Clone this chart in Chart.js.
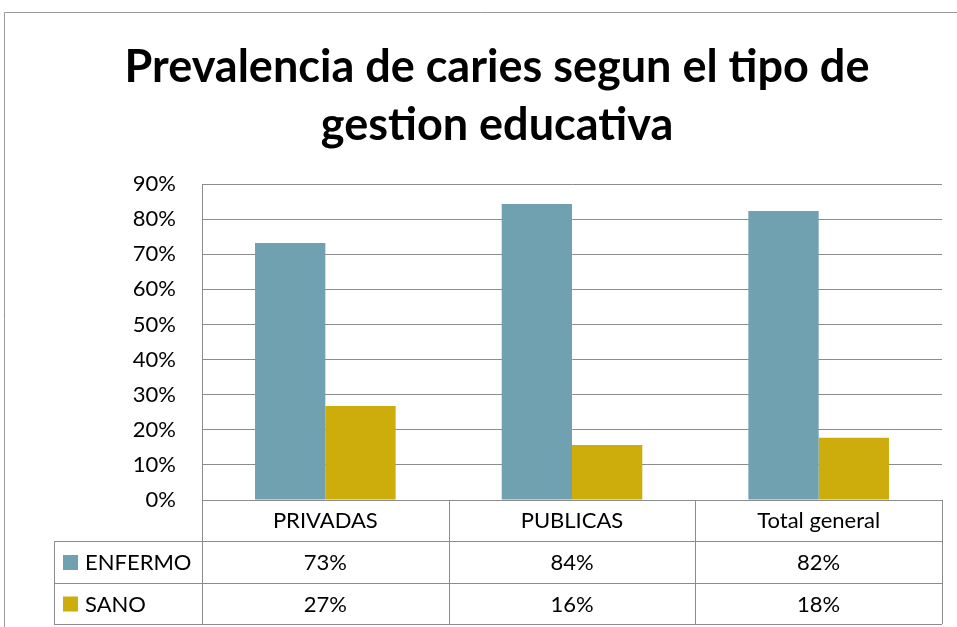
<!DOCTYPE html>
<html>
<head>
<meta charset="utf-8">
<script src="https://cdn.jsdelivr.net/npm/chart.js@4.4.0/dist/chart.umd.min.js"></script>
<style>
  html, body { margin: 0; padding: 0; background: #fff; }
  canvas { display: block; }
</style>
</head>
<body>
<canvas id="myChart" width="957" height="627"></canvas>
<script>
const categories = ["PRIVADAS", "PUBLICAS", "Total general"];
const enfermo = [73.2, 84.3, 82.3];
const sano = [26.8, 15.7, 17.7];
const seriesNames = ["ENFERMO", "SANO"];
const yTicks = [0, 10, 20, 30, 40, 50, 60, 70, 80, 90];

const colors = ["#6fa1b1", "#cdad0b"];
const lineColor = "#8c8c8c";
const font = "Lato";

// draws the frame and the data table under the plot
const tablePlugin = {
  id: "dataTable",
  afterDraw(chart) {
    const ctx = chart.ctx;
    const area = chart.chartArea;
    const x = chart.scales.x;
    const rows = [area.bottom, 541, 583, 624];
    const leftEdge = 54;

    ctx.save();
    // outer frame
    ctx.strokeStyle = "#999";
    ctx.lineWidth = 1;
    ctx.beginPath();
    ctx.moveTo(4.5, chart.height);
    ctx.lineTo(4.5, 12.5);
    ctx.lineTo(chart.width, 12.5);
    ctx.stroke();

    ctx.strokeStyle = lineColor;
    ctx.beginPath();
    // horizontal table lines
    ctx.moveTo(area.left, rows[0] + 0.5);
    ctx.lineTo(area.right, rows[0] + 0.5);
    for (let i = 1; i < rows.length; i++) {
      ctx.moveTo(leftEdge, rows[i] + 0.5);
      ctx.lineTo(area.right, rows[i] + 0.5);
    }
    // vertical table lines
    ctx.moveTo(leftEdge + 0.5, rows[1]);
    ctx.lineTo(leftEdge + 0.5, rows[3]);
    const step = (area.right - area.left) / categories.length;
    for (let i = 0; i <= categories.length; i++) {
      const xx = Math.round(area.left + step * i) + 0.5;
      ctx.moveTo(xx, rows[0]);
      ctx.lineTo(xx, rows[3]);
    }
    ctx.stroke();

    ctx.fillStyle = "#000";
    ctx.font = "22px " + font;
    ctx.textAlign = "center";
    ctx.textBaseline = "middle";
    const series = [enfermo, sano];
    categories.forEach((c, i) => {
      const cx = x.getPixelForValue(i);
      ctx.fillText(c, cx, (rows[0] + rows[1]) / 2);
      series.forEach((s, j) => {
        ctx.fillText(Math.round(s[i]) + "%", cx, (rows[j + 1] + rows[j + 2]) / 2 + 1);
      });
    });

    // legend keys in the table
    ctx.textAlign = "left";
    seriesNames.forEach((name, j) => {
      const cy = (rows[j + 1] + rows[j + 2]) / 2;
      ctx.fillStyle = colors[j];
      ctx.fillRect(63, cy - 7, 15, 15);
      ctx.fillStyle = "#000";
      ctx.fillText(name, 85, cy + 1);
    });
    ctx.restore();
  }
};

const ctx = document.getElementById("myChart").getContext("2d");
const myChart = new Chart(ctx, {
  type: "bar",
  data: {
    labels: categories,
    datasets: [
      { label: seriesNames[0], data: enfermo, backgroundColor: colors[0] },
      { label: seriesNames[1], data: sano, backgroundColor: colors[1] }
    ]
  },
  options: {
    responsive: false,
    animation: false,
    layout: { padding: { left: 52, right: 15, top: 0, bottom: 127 } },
    datasets: {
      bar: { categoryPercentage: 0.57, barPercentage: 1.0, borderWidth: 0 }
    },
    plugins: {
      legend: { display: false },
      tooltip: { enabled: false },
      title: {
        display: true,
        text: ["Prevalencia de caries segun el tipo de", "gestion educativa"],
        color: "#000",
        font: { family: font, size: 45, weight: "bold", lineHeight: 58 / 45 },
        padding: { top: 38, bottom: 30 }
      }
    },
    scales: {
      x: { display: false },
      y: {
        min: 0,
        max: 90,
        afterFit(scale) { scale.width = 150; },
        afterBuildTicks(scale) { scale.ticks = yTicks.map(v => ({ value: v })); },
        ticks: {
          color: "#000",
          padding: 26,
          font: { family: font, size: 22 },
          callback: (v) => v + "%"
        },
        grid: { color: lineColor, drawTicks: false },
        border: { display: true, color: lineColor }
      }
    }
  },
  plugins: [tablePlugin]
});
</script>
</body>
</html>
